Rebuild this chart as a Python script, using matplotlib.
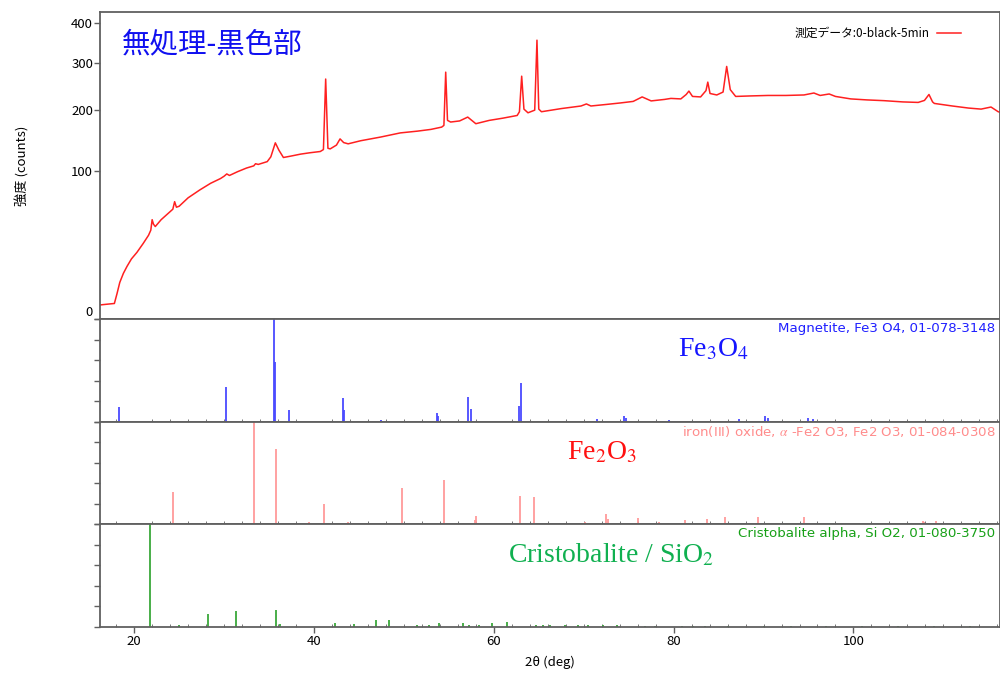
import numpy as np
import matplotlib
matplotlib.use("Agg")
import matplotlib.pyplot as plt
from matplotlib.ticker import MultipleLocator, FixedLocator
from matplotlib.transforms import ScaledTranslation

plt.rcParams['font.family'] = ['Noto Sans CJK JP', 'DejaVu Sans']
plt.rcParams['mathtext.fontset'] = 'stix'

scan_2theta = [16.2, 17.0, 17.8, 18.1, 18.4, 18.8, 19.2, 19.7, 20.3, 21.0, 21.6, 21.85, 22.0, 22.15,
               22.35, 23.0, 24.0, 24.3, 24.5, 24.7, 25.0, 26.0, 27.3, 28.5, 29.6, 30.0, 30.3, 30.6,
               31.5, 32.5, 33.3, 33.5, 33.8, 34.8, 35.2, 35.7, 36.1, 36.6, 37.4, 38.5, 39.5, 40.7,
               41.05, 41.3, 41.55, 41.8, 42.5, 42.9, 43.3, 43.8, 45.2, 47.4, 49.6, 51.5, 53.0, 54.2,
               54.45, 54.65, 54.85, 55.2, 56.2, 57.1, 58.0, 59.5, 61.0, 62.6, 62.85, 63.1, 63.35, 63.8,
               64.55, 64.8, 65.0, 65.3, 67.5, 69.7, 70.3, 70.8, 72.5, 74.1, 75.5, 76.5, 77.5, 79.0,
               79.7, 80.8, 81.4, 81.7, 82.1, 83.0, 83.6, 83.8, 84.05, 84.8, 85.5, 85.9, 86.3, 86.9,
               88.5, 90.5, 92.5, 94.5, 95.6, 96.3, 97.3, 98.0, 99.7, 101.5, 103.4, 105.5, 107.2,
               107.9, 108.4, 108.8, 109.0, 111.0, 112.8, 114.2, 115.3, 116.1, 116.3]
scan_counts = [0.9, 1.0, 1.1, 3.0, 6.1, 9.5, 12.6, 16.5, 20.2, 26, 32, 36, 45, 41,
               39, 45, 52.6, 55, 62.8, 57, 58, 67, 76, 84, 90, 93, 96, 94,
               99, 104, 107, 110, 109, 113, 120, 141.6, 130, 119, 121, 124, 126, 128,
               131, 262.7, 133, 132, 138, 148, 142, 140, 145, 151, 158, 161, 164, 168,
               171, 278, 180, 177, 179, 186, 174, 180, 184, 189, 196, 269, 201, 194,
               199, 354.7, 201, 196, 202, 207, 211, 207, 210, 213, 216, 225, 217, 220,
               222, 221, 230, 237, 226, 225, 238, 256, 232, 229, 235, 291, 240, 226,
               227, 228, 228, 229, 233, 228, 231, 226, 221, 219, 217.5, 215, 214,
               218, 230, 215, 212, 207, 203, 201, 205, 196, 195]

# reference cards: position (2theta) and relative intensity (%)
mag_pos = [18.33, 30.2, 35.56, 35.66, 37.2, 43.2, 43.38, 47.4, 53.7, 53.8, 57.16, 57.45, 62.83, 63.0,
           71.5, 74.5, 74.7, 79.5, 87.3, 90.2, 90.5, 94.9, 95.5]
mag_int = [14, 34, 100, 58, 11, 23, 11, 1, 8, 5, 24, 12, 15, 38,
           2.5, 5, 3, 1, 2, 5, 3, 3, 2]

hem_pos = [24.27, 33.33, 35.81, 39.49, 41.12, 43.8, 49.8, 54.45, 56.56, 57.97, 57.9, 62.9, 64.5,
           70.15, 72.5, 72.7, 76.0, 78.4, 79.4, 81.3, 83.7, 85.7, 89.4, 94.5, 96.7, 107.7, 107.9, 109.2]
hem_int = [31.6, 100, 73, 2, 20, 2, 35.5, 42.7, 1, 8, 4, 27, 26,
           2, 9.5, 5, 5.5, 1.5, 1, 4, 4.5, 6.5, 6.5, 6.5, 1, 3, 2, 3]

cri_pos = [21.75, 25.0, 28.24, 31.32, 35.73, 36.2, 42.3, 44.5, 46.9, 48.3, 51.5, 52.8, 53.9, 56.6,
           57.2, 58.3, 59.83, 61.5, 64.65, 65.5, 66.2, 67.9, 69.4, 70.5, 72.1, 73.7, 76.8, 77.9,
           80.9, 82.2, 83.5, 86.0, 90.0, 93.0, 97.0, 101.0, 105.0, 109.0, 113.0]
cri_int = [100, 1, 12, 15, 16, 2.6, 3.6, 2, 6.5, 6, 1, 1.5, 3, 3,
           1, 1, 3, 4.5, 1.5, 1.5, 1, 1, 1, 1, 1, 1, 0.8, 0.8,
           0.8, 0.8, 0.8, 0.6, 0.6, 0.6, 0.6, 0.6, 0.6, 0.6, 0.6]

y_ticks = [0, 100, 200, 300, 400]
x_ticks = [20, 40, 60, 80, 100]
x_range = (16.2, 116.3)

spine_c = '#606060'

fig = plt.figure(figsize=(10, 6.75), dpi=100)
ax0 = fig.add_axes([0.1, 1 - 319 / 675, 0.9, 307 / 675])
ref_axes = []
tops = [319, 421.5, 524]
for t in tops:
    ref_axes.append(fig.add_axes([0.1, 1 - (t + 102.5) / 675, 0.9, 102.5 / 675]))

def fwd(y):
    return np.sqrt(np.clip(y, 0, None))

def inv(y):
    return np.asarray(y) ** 2

ax0.plot(scan_2theta, scan_counts, color='#ff2020', lw=1.1, label='測定データ:0-black-5min')
ax0.set_yscale('function', functions=(fwd, inv))
ax0.set_ylim(0, 430)
ax0.set_xlim(*x_range)
ax0.yaxis.set_major_locator(FixedLocator(y_ticks))
ax0.yaxis.set_minor_locator(FixedLocator([]))
ax0.tick_params(axis='y', length=4, width=1, color=spine_c, labelsize=9.5, pad=1)
ax0.tick_params(axis='x', length=0, labelbottom=False)
ax0.set_ylabel('強度 (counts)', fontsize=9.5, labelpad=30)
ax0.legend(loc='upper right', bbox_to_anchor=(0.968, 0.985), frameon=False, markerfirst=False,
           fontsize=8.5, handlelength=2.0, handletextpad=0.6)
ax0.text(0.024, 0.893, '無処理-黒色部', transform=ax0.transAxes, color='#1010f0',
         fontsize=20.5, ha='left', va='center')

# the zero label sits a little above the bottom edge
fig.canvas.draw()
zero_lbl = ax0.get_yticklabels()[0]
zero_lbl.set_transform(zero_lbl.get_transform() + ScaledTranslation(0, 8 / 100, fig.dpi_scale_trans))

cards = [
    (mag_pos, mag_int, '#4a4aff', 'Magnetite, Fe3 O4, 01-078-3148', '#2020ff',
     'Fe$_3$O$_4$', '#1515ff', 0.682),
    (hem_pos, hem_int, '#ff9a9a', 'iron(III) oxide, $\\alpha$ -Fe2 O3, Fe2 O3, 01-084-0308', '#ff8c8c',
     'Fe$_2$O$_3$', '#ff1010', 0.558),
    (cri_pos, cri_int, '#3aa83a', 'Cristobalite alpha, Si O2, 01-080-3750', '#17a017',
     'Cristobalite / SiO$_2$', '#10b050', 0.568),
]

for ax, (pos, inten, lc, card, cc, formula, fc, fx) in zip(ref_axes, cards):
    ax.vlines(pos, 0, inten, colors=lc, lw=1.3)
    ax.set_xlim(*x_range)
    ax.set_ylim(0, 100)
    ax.yaxis.set_major_locator(MultipleLocator(20))
    ax.set_yticklabels([])
    ax.tick_params(axis='y', length=4, width=1, color=spine_c)
    ax.xaxis.set_major_locator(FixedLocator(x_ticks))
    ax.xaxis.set_minor_locator(MultipleLocator(2))
    ax.tick_params(axis='x', which='minor', direction='in', length=2, color=spine_c)
    ax.tick_params(axis='x', which='major', length=4, width=1, color=spine_c, labelbottom=False)
    ax.text(0.995, 0.975, card, transform=ax.transAxes, ha='right', va='top',
            color=cc, fontsize=9.6, family=['DejaVu Sans'])
    ax.text(fx, 0.70, formula, transform=ax.transAxes, ha='center', va='center',
            color=fc, fontsize=20, family=['Liberation Serif'])

for ax in [ax0] + ref_axes:
    for s in ax.spines.values():
        s.set_color(spine_c)
        s.set_linewidth(1.3)

last = ref_axes[-1]
last.tick_params(axis='x', which='major', labelbottom=True, labelsize=9.5, pad=2)
last.set_xlabel('2θ (deg)', fontsize=9.5, labelpad=6)

fig.savefig('out.png', dpi=100)
